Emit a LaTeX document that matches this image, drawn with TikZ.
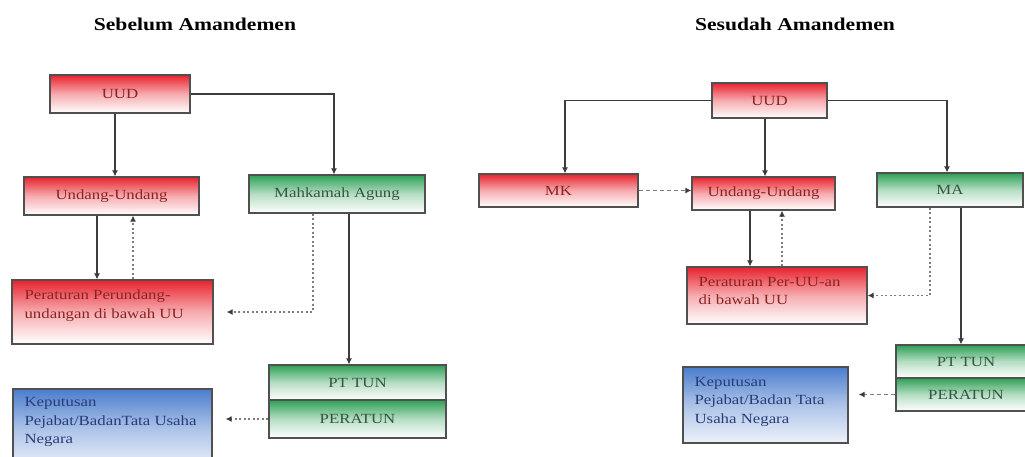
\documentclass[tikz,border=0pt]{standalone}
\usepackage{fontspec}
\setmainfont{Liberation Serif}[FakeStretch=1.2]
\usetikzlibrary{arrows.meta}
\definecolor{redtop}{RGB}{232,35,45}
\definecolor{greentop}{RGB}{45,160,85}
\definecolor{bluetop}{RGB}{75,125,205}
\definecolor{bluebot}{RGB}{238,242,250}
\definecolor{redtext}{RGB}{140,35,35}
\definecolor{greentext}{RGB}{55,85,65}
\definecolor{bluetext}{RGB}{40,60,120}
\definecolor{boxline}{RGB}{80,80,80}
\definecolor{connc}{RGB}{60,60,60}
\definecolor{dotc}{RGB}{125,125,125}
\begin{document}
\begin{tikzpicture}[x=1pt,y=-1pt,
  box/.style={draw=boxline, line width=1.2pt, rectangle, inner sep=0pt,
    font=\fontsize{14}{18.5}\selectfont},
  redbox/.style={box, top color=redtop, bottom color=white, middle color=redtop!38!white, text=redtext},
  greenbox/.style={box, top color=greentop, bottom color=white, middle color=greentop!35!white, text=greentext},
  bluebox/.style={box, top color=bluetop, bottom color=bluebot, middle color=bluetop!40!bluebot, text=bluetext},
  multitext/.style={anchor=north west, align=left, inner sep=0pt, font=\fontsize{14}{18.5}\selectfont},
  title/.style={anchor=base, inner sep=0pt, font=\fontsize{18}{22}\selectfont\bfseries},
  tip/.style={-{Latex[length=6pt,width=6pt,color=connc]}},
  conn/.style={draw=connc, line width=1.1pt, tip},
  dotconn/.style={draw=dotc, line width=1.2pt, tip, dash pattern=on 2pt off 2.5pt},
  dashconn/.style={draw=dotc, line width=1.2pt, tip, dash pattern=on 4pt off 3pt}]
\useasboundingbox (0,0) rectangle (1025,456);
\fill[white] (0,0) rectangle (1025,456);
\clip (0,0) rectangle (1025,456);

% titles
\node[title] (t1) at (195,30) {Sebelum Amandemen};
\node[title] (t2) at (795,30) {Sesudah Amandemen};

% ---------- left ----------
\node[redbox, minimum width=140, minimum height=38] (lUUD) at (120,94) {UUD};
\node[redbox, minimum width=175, minimum height=38] (lUU) at (111.5,196) {Undang-Undang};
\node[greenbox, minimum width=176, minimum height=38] (lMA) at (337,194) {Mahkamah Agung};
\node[redbox, minimum width=201, minimum height=64] (lPer) at (112.5,312) {};
\node[multitext, text=redtext] (lPerT) at ([shift={(13pt,-10.5pt)}]lPer.north west) {Peraturan Perundang-\\undangan di bawah UU};
\node[greenbox, minimum width=177, minimum height=35] (lPT) at (357.5,382.5) {PT TUN};
\node[greenbox, minimum width=177, minimum height=38] (lPERA) at (357.5,419) {PERATUN};
\node[bluebox, minimum width=199, minimum height=80] (lKep) at (112.5,429) {};
\node[multitext, text=bluetext] (lKepT) at ([shift={(12pt,-8.8pt)}]lKep.north west) {Keputusan\\Pejabat/BadanTata Usaha\\Negara};

% ---------- right ----------
\node[redbox, minimum width=115, minimum height=35] (rUUD) at (769.5,100.5) {UUD};
\node[redbox, minimum width=159, minimum height=33] (rMK) at (558.5,190.5) {MK};
\node[redbox, minimum width=143, minimum height=33] (rUU) at (763.5,193.5) {Undang-Undang};
\node[greenbox, minimum width=146, minimum height=34] (rMA) at (950,190) {MA};
\node[redbox, minimum width=180, minimum height=57] (rPer) at (777,295.5) {};
\node[multitext, text=redtext] (rPerT) at ([shift={(12pt,-10.5pt)}]rPer.north west) {Peraturan Per-UU-an\\di bawah UU};
\node[greenbox, minimum width=140, minimum height=33] (rPT) at (966,361.5) {PT TUN};
\node[greenbox, minimum width=140, minimum height=33] (rPERA) at (966,394.5) {PERATUN};
\node[bluebox, minimum width=165, minimum height=76] (rKep) at (765.5,405) {};
\node[multitext, text=bluetext] (rKepT) at ([shift={(12pt,-10.5pt)}]rKep.north west) {Keputusan\\Pejabat/Badan Tata\\Usaha Negara};

% helper x positions
\coordinate (xa) at (115,0);
\coordinate (xb) at (334,0);
\coordinate (xc) at (97,0);
\coordinate (xd) at (133,0);
\coordinate (xe) at (313,0);
\coordinate (xf) at (349,0);
\coordinate (xg) at (565,0);
\coordinate (xh) at (765,0);
\coordinate (xi) at (947,0);
\coordinate (xj) at (750,0);
\coordinate (xk) at (782,0);
\coordinate (xl) at (930,0);
\coordinate (xm) at (961,0);

% left connectors
\draw[conn] (lUUD.south -| xa) -- (lUU.north -| xa);
\draw[conn] (lUUD.east) -| (xb |- lMA.north);
\draw[conn] (lUU.south -| xc) -- (lPer.north -| xc);
\draw[dotconn] (lPer.north -| xd) -- (lUU.south -| xd);
\draw[dotconn, shorten >=13pt] (lMA.south -| xe) |- (lPer.east);
\draw[conn] (lMA.south -| xf) -- (lPT.north -| xf);
\draw[dotconn, shorten >=13pt] (lPERA.west) -- (lPERA.west -| lKep.east);

% right connectors
\draw[conn] (rUUD.west) -| (xg |- rMK.north);
\draw[conn] (rUUD.south -| xh) -- (rUU.north -| xh);
\draw[conn] (rUUD.east) -| (xi |- rMA.north);
\draw[dashconn] (rMK.east) -- (rMK.east -| rUU.west);
\draw[conn] (rUU.south -| xj) -- (rPer.north -| xj);
\draw[dotconn] (rPer.north -| xk) -- (rUU.south -| xk);
\draw[dotconn] (rMA.south -| xl) |- (rPer.east);
\draw[conn] (rMA.south -| xm) -- (rPT.north -| xm);
\draw[dashconn, shorten >=10pt] (rPERA.west) -- (rPERA.west -| rKep.east);
\end{tikzpicture}
\end{document}
